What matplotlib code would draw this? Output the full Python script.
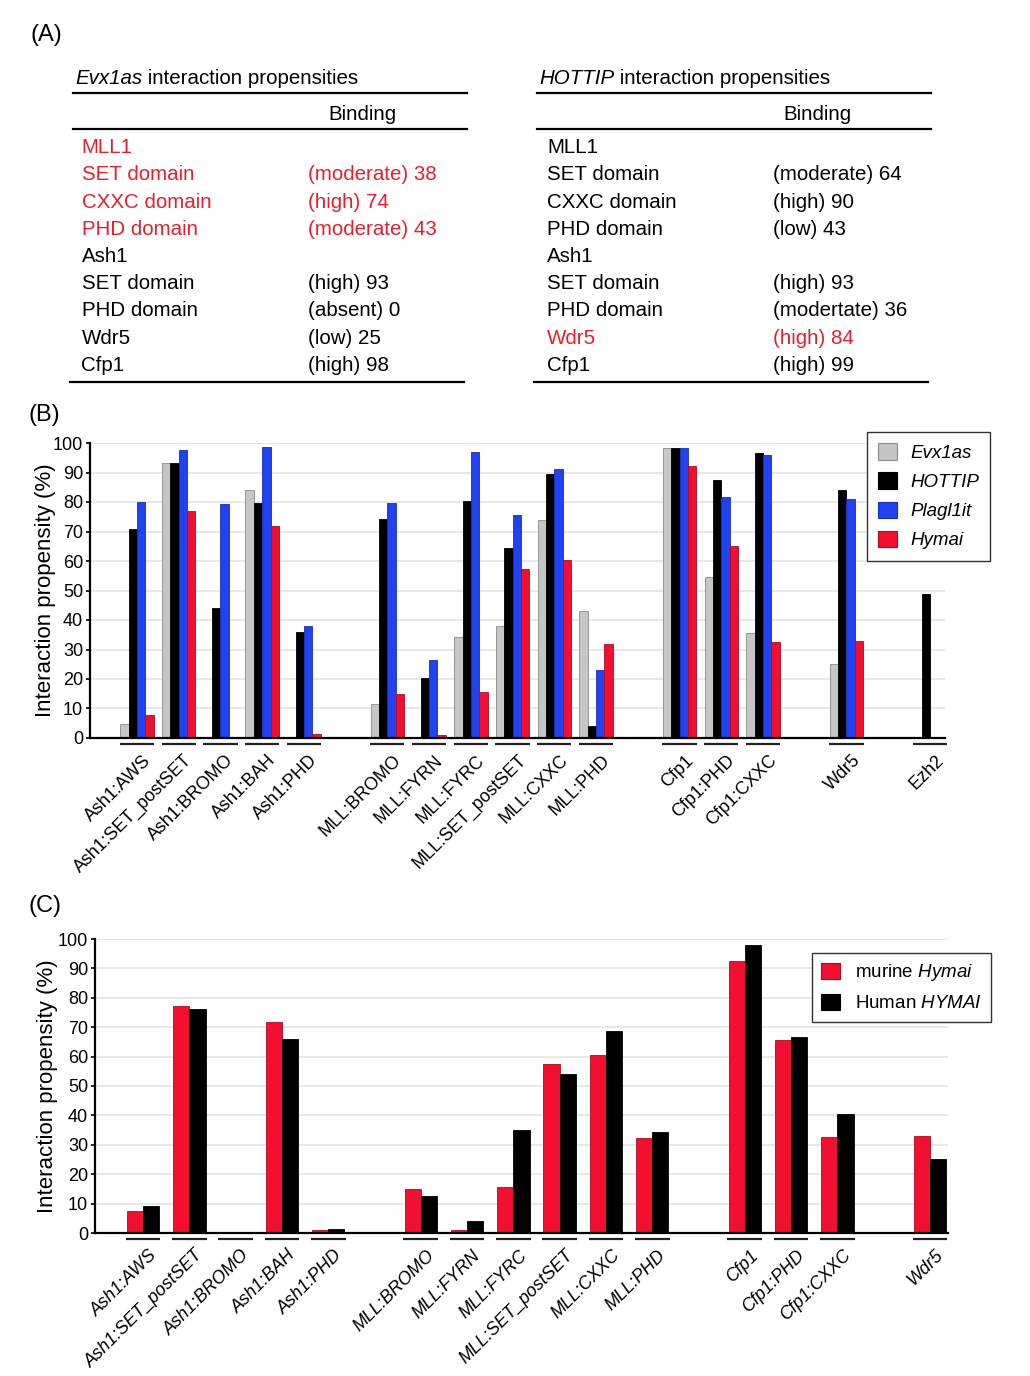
import numpy as np
import matplotlib
matplotlib.use("Agg")
import matplotlib.pyplot as plt
from matplotlib import font_manager
from matplotlib.lines import Line2D
from matplotlib.patches import Patch
from matplotlib.text import Annotation
from matplotlib.transforms import ScaledTranslation, blended_transform_factory

W, H, DPI = 1030, 1376, 100

_names = {f.name for f in font_manager.fontManager.ttflist}
SANS   = "Liberation Sans" if "Liberation Sans" in _names else "DejaVu Sans"
NARROW = "Liberation Sans Narrow" if "Liberation Sans Narrow" in _names else SANS

plt.rcParams["font.family"] = [SANS, "DejaVu Sans"]
plt.rcParams["mathtext.fontset"] = "custom"
plt.rcParams["mathtext.rm"] = SANS
plt.rcParams["mathtext.it"] = SANS + ":italic"

GREY, BLACK, BLUE, RED = "#c6c6c6", "#000000", "#2142f2", "#f20f2f"
TXT_RED = "#e41f2e"

# ── Panel A: tables ──────────────────────────────────────────────────────────
EVX_ROWS = ["MLL1", "SET domain", "CXXC domain", "PHD domain", "Ash1",
            "SET domain", "PHD domain", "Wdr5", "Cfp1"]
EVX_BIND = ["", "(moderate) 38", "(high) 74", "(moderate) 43", "",
            "(high) 93", "(absent) 0", "(low) 25", "(high) 98"]
EVX_RED  = [True, True, True, True, False, False, False, False, False]

HOT_ROWS = ["MLL1", "SET domain", "CXXC domain", "PHD domain", "Ash1",
            "SET domain", "PHD domain", "Wdr5", "Cfp1"]
HOT_BIND = ["", "(moderate) 64", "(high) 90", "(low) 43", "",
            "(high) 93", "(modertate) 36", "(high) 84", "(high) 99"]
HOT_RED  = [False, False, False, False, False, False, False, True, False]

# ── Panel B: four lncRNAs ────────────────────────────────────────────────────
B_GROUPS = [
    ["Ash1:AWS", "Ash1:SET_postSET", "Ash1:BROMO", "Ash1:BAH", "Ash1:PHD"],
    ["MLL:BROMO", "MLL:FYRN", "MLL:FYRC", "MLL:SET_postSET", "MLL:CXXC", "MLL:PHD"],
    ["Cfp1", "Cfp1:PHD", "Cfp1:CXXC"],
    ["Wdr5"],
    ["Ezh2"],
]
B_EVX1AS   = [4.7, 93.2, 0, 83.9, 0.5,   11.4, 0.5, 34.2, 38.1, 73.8, 43.0,
              98.4, 54.5, 35.7,   25.1,   np.nan]
B_HOTTIP   = [71.0, 93.2, 44.1, 79.5, 36.0,   74.4, 20.5, 80.4, 64.5, 89.4, 4.1,
              98.4, 87.5, 96.5,   83.9,   48.9]
B_PLAGL1IT = [80.0, 97.7, 79.4, 98.8, 38.1,   79.8, 26.3, 96.8, 75.6, 91.2, 23.0,
              98.4, 81.8, 95.9,   80.9,   np.nan]
B_HYMAI    = [7.7, 77.1, 0, 71.7, 1.5,   15.0, 1.0, 15.6, 57.2, 60.3, 31.9,
              92.3, 65.2, 32.4,   32.8,   np.nan]

# ── Panel C: murine vs human Hymai ───────────────────────────────────────────
C_GROUPS = [
    ["Ash1:AWS", "Ash1:SET_postSET", "Ash1:BROMO", "Ash1:BAH", "Ash1:PHD"],
    ["MLL:BROMO", "MLL:FYRN", "MLL:FYRC", "MLL:SET_postSET", "MLL:CXXC", "MLL:PHD"],
    ["Cfp1", "Cfp1:PHD", "Cfp1:CXXC"],
    ["Wdr5"],
]
C_MURINE = [7.6, 77.2, 0, 71.8, 1.1,   14.9, 0.9, 15.6, 57.5, 60.7, 32.4,
            92.6, 65.5, 32.7,   33.1]
C_HUMAN  = [9.3, 76.1, 0, 66.1, 1.5,   12.7, 4.0, 34.9, 54.2, 68.6, 34.2,
            98.0, 66.8, 40.4,   25.3]

YTICKS = list(range(0, 101, 10))


def fx(px):
    return px / W


def fy(py):
    return 1 - py / H


def positions(groups):
    """Slot index per category, one empty slot between groups."""
    pos, labels, i = [], [], 0
    for g in groups:
        for name in g:
            pos.append(i)
            labels.append(name)
            i += 1
        i += 1
    return np.array(pos, float), labels


def hline(fig, x0, x1, y, lw=1.6):
    fig.add_artist(Line2D([fx(x0), fx(x1)], [fy(y), fy(y)], color="black", lw=lw))


def draw_table(fig, x0, x1, xb, name, rows, bind, red, xcol, xval):
    # italic lncRNA name, then the rest of the title right after it
    t1 = fig.text(fx(x0 + 2), fy(84), name, fontsize=14.8, va="baseline",
                  style="italic")
    fig.add_artist(Annotation(" interaction propensities", xy=(1, 0),
                              xycoords=t1, ha="left", va="bottom",
                              fontsize=14.8))
    hline(fig, x0, x1, 93)
    fig.text(fx(xb), fy(120), "Binding", fontsize=14.8, va="baseline")
    hline(fig, x0, x1, 129)
    for k, (r, b, isred) in enumerate(zip(rows, bind, red)):
        y = 153.3 + k * 27.2
        c = TXT_RED if isred else "black"
        fig.text(fx(xcol), fy(y), r, fontsize=14.8, va="baseline", color=c)
        if b:
            fig.text(fx(xval), fy(y), b, fontsize=14.8, va="baseline", color=c)
    hline(fig, x0 - 3, x1 - 3, 381.5)


def style_axes(ax, fig, pos, labels, xlim, underline, italic_labels, ylab_x):
    ax.set_xlim(*xlim)
    ax.set_ylim(0, 100)
    for s in ("top", "right"):
        ax.spines[s].set_visible(False)
    ax.spines["left"].set_linewidth(1.6)
    ax.spines["bottom"].set_linewidth(1.6)
    ax.set_yticks(YTICKS)
    ax.set_yticklabels([str(t) for t in YTICKS], family=NARROW, fontsize=13)
    ax.tick_params(axis="y", direction="out", length=3, width=1.2, pad=2)
    ax.yaxis.grid(True, color="#e4e4e4", lw=1.2)
    ax.set_axisbelow(True)
    ax.set_ylabel("Interaction propensity (%)", fontsize=16)
    ax.yaxis.set_label_coords(ylab_x, 0.5)

    ax.set_xticks(pos)
    ax.set_xticklabels(labels, rotation=45, ha="right", va="top",
                       rotation_mode="anchor", fontsize=12.9,
                       style="italic" if italic_labels else "normal")
    ax.tick_params(axis="x", length=0, pad=10)
    off = ScaledTranslation(5 / DPI, 0, fig.dpi_scale_trans)
    for t in ax.get_xticklabels():
        t.set_transform(t.get_transform() + off)

    tr = blended_transform_factory(ax.transData, ax.transAxes)
    for p in pos:
        ax.plot([p - underline / 2, p + underline / 2], [-0.02, -0.02],
                transform=tr, color="#222222", lw=1.6, clip_on=False,
                solid_capstyle="butt")


def main():
    fig = plt.figure(figsize=(W / DPI, H / DPI), dpi=DPI)

    # ── (A)
    fig.text(fx(31), fy(41), "(A)", fontsize=17, va="baseline")
    draw_table(fig, 73, 467, 328, "Evx1as",
               EVX_ROWS, EVX_BIND, EVX_RED, 81.5, 308)
    draw_table(fig, 537, 931, 783, "HOTTIP",
               HOT_ROWS, HOT_BIND, HOT_RED, 547, 773)

    # ── (B)
    fig.text(fx(29), fy(421), "(B)", fontsize=17, va="baseline")
    axb = fig.add_axes([fx(90), fy(738), fx(945) - fx(90), fy(443) - fy(738)])
    posb, labb = positions(B_GROUPS)
    w = 0.2
    series = [(B_EVX1AS, GREY, "#8a8a8a", "Evx1as"),
              (B_HOTTIP, BLACK, "#000000", "HOTTIP"),
              (B_PLAGL1IT, BLUE, "#1530b0", "Plagl1it"),
              (B_HYMAI, RED, "#b00a20", "Hymai")]
    for k, (vals, fc, ec, name) in enumerate(series):
        axb.bar(posb + (k - 1.5) * w, vals, width=w, color=fc, edgecolor=ec,
                lw=0.6, label=name, zorder=2)
    style_axes(axb, fig, posb, labb, (-1.125, 19.36), 0.82, False,
               (56 - 90) / 855)
    handles = [Patch(facecolor=fc, edgecolor=ec, lw=0.8) for _, fc, ec, _ in series]
    axb.legend(handles, [s[3] for s in series], loc="upper left",
               bbox_to_anchor=(fx(867), fy(432)), bbox_transform=fig.transFigure,
               borderaxespad=0, fancybox=False, edgecolor="#333333", framealpha=1,
               prop={"style": "italic", "size": 13.5}, handlelength=1.0,
               handleheight=1.0, handletextpad=0.7, labelspacing=0.55,
               borderpad=0.6)

    # ── (C)
    fig.text(fx(29), fy(912), "(C)", fontsize=17, va="baseline")
    axc = fig.add_axes([fx(95), fy(1233), fx(948) - fx(95), fy(939) - fy(1233)])
    posc, labc = positions(C_GROUPS)
    w = 0.35
    axc.bar(posc - w / 2, C_MURINE, width=w, color=RED, edgecolor="#b00a20",
            lw=0.6, zorder=2)
    axc.bar(posc + w / 2, C_HUMAN, width=w, color=BLACK, edgecolor="black",
            lw=0.6, zorder=2)
    style_axes(axc, fig, posc, labc, (-1.04, 17.39), 0.75, True,
               (58 - 95) / 853)
    hc = [Patch(facecolor=RED, edgecolor="#b00a20", lw=0.8),
          Patch(facecolor=BLACK, edgecolor="black", lw=0.8)]
    axc.legend(hc, [r"murine $\mathit{Hymai}$", r"Human $\mathit{HYMAI}$"],
               loc="upper left", bbox_to_anchor=(fx(812), fy(953)),
               bbox_transform=fig.transFigure, borderaxespad=0, fancybox=False,
               edgecolor="#333333", framealpha=1, prop={"size": 13.5},
               handlelength=1.0, handleheight=1.0, handletextpad=0.8,
               labelspacing=0.55, borderpad=0.5)

    fig.savefig("out.png", dpi=DPI)
    plt.close(fig)


if __name__ == "__main__":
    main()
